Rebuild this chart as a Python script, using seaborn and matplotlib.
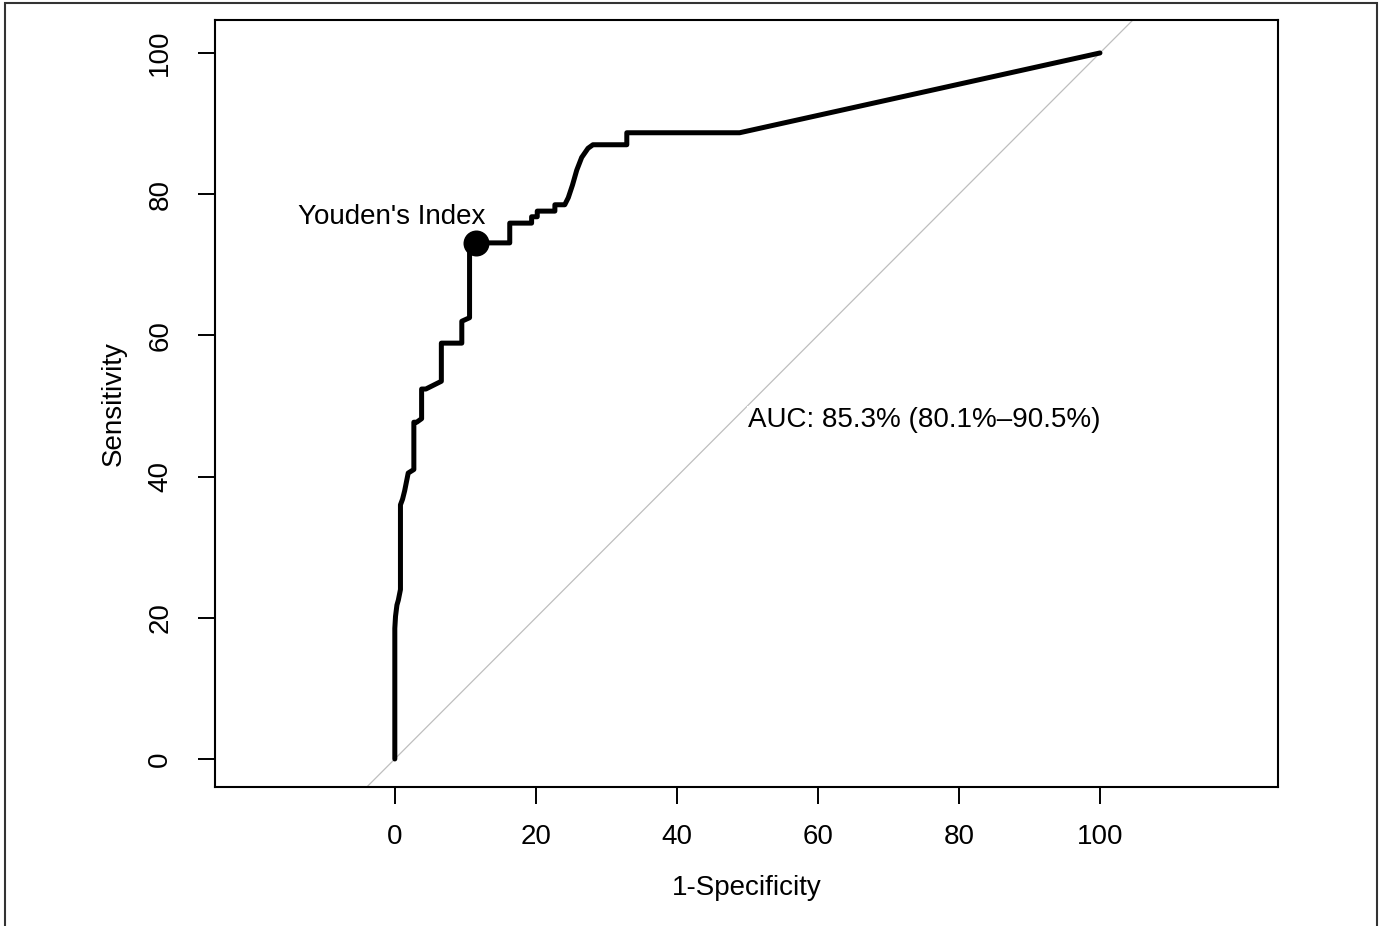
import matplotlib
matplotlib.use("Agg")
import matplotlib.pyplot as plt
import seaborn as sns
import pandas as pd
from matplotlib.patches import Rectangle

# ROC curve (1-specificity, sensitivity), in %
fpr = [0, 0, 0.1, 0.3, 0.5, 0.7, 0.8, 0.8, 1.1, 1.4, 1.9, 2.7, 2.7, 3.1, 3.8,
       3.8, 4.4, 6.6, 6.6, 9.5, 9.5, 10.6, 10.6, 11.5, 16.3, 16.3, 19.4, 19.4,
       20.2, 20.2, 22.7, 22.7, 24.1, 24.6, 25.2, 25.8, 26.5, 27.4, 28.1, 32.9,
       32.9, 48.9, 100]
tpr = [0, 18.5, 20.2, 21.8, 22.5, 23.5, 24, 36, 36.8, 38, 40.5, 41, 47.7,
       47.7, 48.2, 52.4, 52.4, 53.5, 58.9, 58.9, 62, 62.5, 72.5, 73.1, 73.1,
       75.9, 75.9, 76.8, 76.8, 77.6, 77.6, 78.5, 78.5, 79.5, 81.3, 83.4, 85.2,
       86.5, 87.0, 87.0, 88.7, 88.7, 100]
youden_x = [11.5]
youden_y = [73.1]
ticks = [0, 20, 40, 60, 80, 100]
auc_label = "AUC: 85.3% (80.1%\u201390.5%)"

sns.set_style("white")
plt.rcParams["font.family"] = ["Liberation Sans", "DejaVu Sans"]
plt.rcParams["text.color"] = "black"
plt.rcParams["xtick.color"] = "black"
plt.rcParams["ytick.color"] = "black"
plt.rcParams["axes.labelcolor"] = "black"
fs = 20

fig = plt.figure(figsize=(13.83, 9.26), dpi=100)
ax = fig.add_axes([215 / 1383, 1 - 787 / 926, 1063 / 1383, 767 / 926])

# chance line
ax.plot([-30, 130], [-30, 130], color="#BEBEBE", lw=0.9, zorder=1)

df = pd.DataFrame({"fpr": fpr, "tpr": tpr})
sns.lineplot(data=df, x="fpr", y="tpr", sort=False, estimator=None,
             color="black", lw=3.6, ax=ax, zorder=3)
sns.scatterplot(x=youden_x, y=youden_y, color="black", s=300, ax=ax,
                zorder=4, edgecolor="black")

ax.text(-0.4, 76.8, "Youden's Index", fontsize=fs, ha="center", va="center")
ax.text(50.1, 48.0, auc_label, fontsize=fs, ha="left", va="center",
        bbox=dict(facecolor="white", edgecolor="none", pad=1), zorder=2)

ax.set_xlim(-25.5, 125.25)
ax.set_ylim(-3.97, 104.67)
ax.set_xticks(ticks)
ax.set_yticks(ticks)
ax.set_xticklabels([str(t) for t in ticks], fontsize=fs)
ax.set_yticklabels([str(t) for t in ticks], fontsize=fs, rotation=90, va="center")
ax.tick_params(axis="x", direction="out", length=12, width=1.4, pad=15, bottom=True)
ax.tick_params(axis="y", direction="out", length=12, width=1.4, pad=18, left=True)

for s in ax.spines.values():
    s.set_visible(True)
    s.set_color("black")
    s.set_linewidth(1.5)

ax.set_xlabel("1-Specificity", fontsize=fs)
ax.set_ylabel("Sensitivity", fontsize=fs)
ax.xaxis.set_label_coords(0.5, -0.115)
ax.yaxis.set_label_coords(-0.083, 0.5)
ax.xaxis.label.set_va("top")

# outer frame around the figure
fig.patches.append(Rectangle((5 / 1383, -0.1), 1372 / 1383, 1.1 - 3 / 926,
                             transform=fig.transFigure, fill=False,
                             edgecolor="#333333", lw=1.5))

plt.savefig("out.png", dpi=100)
plt.close()
